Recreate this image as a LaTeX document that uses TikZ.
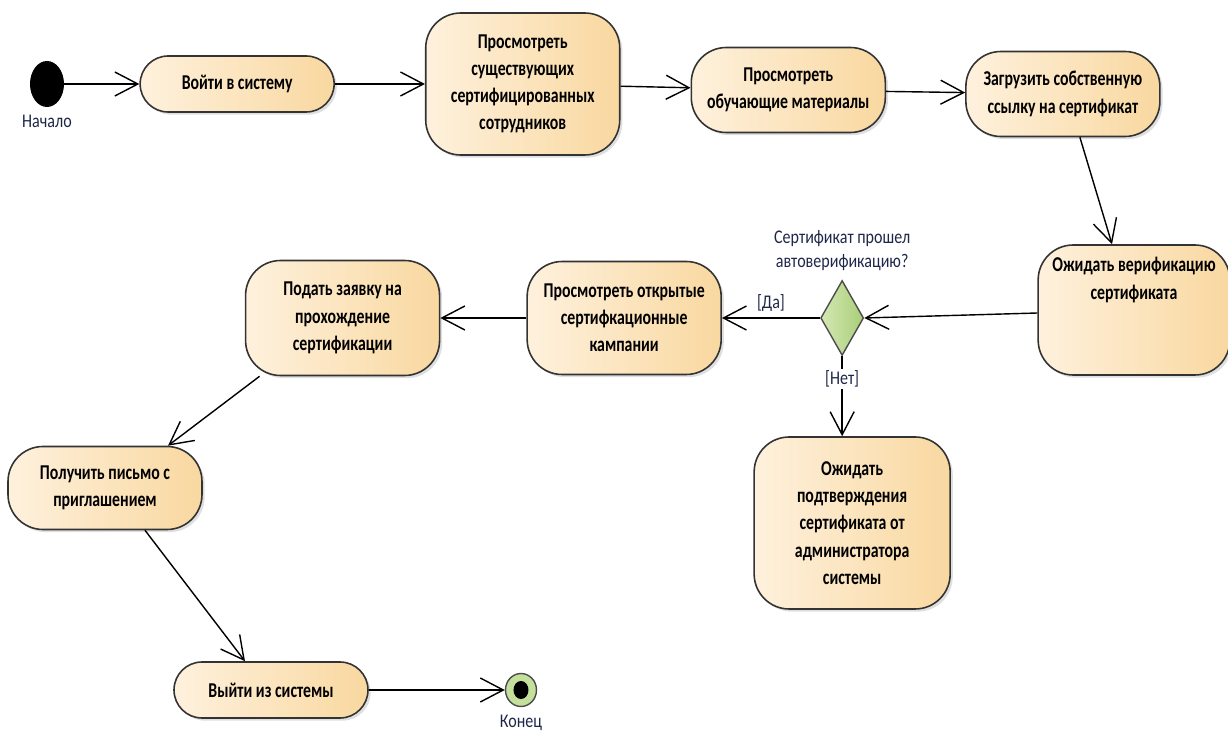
\documentclass[tikz,border=0pt]{standalone}
\usepackage{fontspec}
\setmainfont{Carlito}[FakeStretch=0.83]
\newfontfamily\actionfont{Carlito}[FakeStretch=0.75]
\usepackage{tikz}
\usetikzlibrary{positioning,arrows.meta,shadows,shapes.geometric}

\definecolor{actlight}{HTML}{FEF1DD}
\definecolor{actdark}{HTML}{F9D8A0}
\definecolor{decisionlight}{HTML}{D4E8B4}
\definecolor{decisiondark}{HTML}{A9CE78}
\definecolor{endgreen}{HTML}{C5E09B}
\definecolor{labeltext}{HTML}{1E2748}

\begin{document}
\begin{tikzpicture}[
  >={Straight Barb[length=4.6mm,width=4.8mm]},
  action/.style={draw=black!80, line width=0.9pt, rounded corners=7mm, left color=actlight, right color=actdark,
      minimum width=3.88cm, align=center, font=\actionfont\fontsize{12}{15.5}\selectfont\bfseries,
      drop shadow={shadow xshift=1.5pt, shadow yshift=-1.5pt, opacity=0.25}},
  flow/.style={->, line width=0.8pt},
  note/.style={font=\fontsize{11}{14}\selectfont, text=labeltext},
]
  \useasboundingbox (0,0) rectangle (24.56,-14.76);

  \node (start)[ellipse, fill=black, minimum width=0.68cm, minimum height=0.92cm, inner sep=0] at (0.94,-1.68) {};
  \node (start-label)[below=0.3mm of start, note] {Начало};
  \node (login)[action, right=1.5cm of start, minimum height=1.12cm, rounded corners=5.6mm] {Войти в систему};
  \node (view-certified)[action, right=1.8cm of login, minimum height=2.84cm] {Просмотреть\\существующих\\сертифицированных\\сотрудников};
  \node (view-materials)[action, right=1.4cm of view-certified, yshift=-1.2mm, minimum height=1.7cm] {Просмотреть\\обучающие материалы};
  \node (upload)[action, right=1.58cm of view-materials, yshift=-0.8mm, minimum height=1.7cm] {Загрузить собственную\\ссылку на сертификат};

  % verification
  \node (wait-verif)[action, minimum width=3.72cm, minimum height=2.6cm] at (22.68,-6.2) {\parbox[t][2.1cm][t]{3.6cm}{\centering Ожидать верификацию\\сертификата}};
  \node (check)[diamond, draw=black!70, line width=0.8pt, left color=decisionlight, right color=decisiondark, minimum width=0.86cm, minimum height=1.5cm, inner sep=0, left=3.46cm of wait-verif, yshift=-1.6mm] {};
  \node (check-label)[above=0.5mm of check, note, align=center] {Сертификат прошел\\автоверификацию?};
  \node (view-campaigns)[action, left=1.96cm of check, minimum height=2.26cm] {Просмотреть открытые\\сертифкационные\\кампании};
  \node (apply)[action, left=1.72cm of view-campaigns, minimum height=2.3cm] {Подать заявку на\\прохождение\\сертификации};
  \node (wait-admin)[action, below=1.6cm of check, xshift=2mm, minimum width=3.92cm, minimum height=3.44cm] {Ожидать\\подтверждения\\сертификата от\\администратора\\системы};

  % exit
  \node (invite)[action, minimum height=1.66cm] at (2.1,-9.76) {Получить письмо с\\приглашением};
  \node (logout)[action, minimum height=1.12cm, rounded corners=5.6mm] at (5.42,-13.8) {Выйти из системы};
  \node (end)[ellipse, draw=black!70, line width=0.8pt, fill=endgreen, minimum width=0.62cm, minimum height=0.66cm, inner sep=0, right=2.72cm of logout] {};
  \node (end-dot)[ellipse, fill=black, minimum width=0.3cm, minimum height=0.36cm, inner sep=0] at (end) {};
  \node (end-label)[below=0.3mm of end, note] {Конец};

  \draw[flow] (start) -- (login);
  \draw[flow] (login) -- (view-certified);
  \draw[flow] (view-certified) -- (view-materials);
  \draw[flow] (view-materials) -- (upload);
  \draw[flow] ([xshift=3.4mm]upload.south) -- ([xshift=-4.4mm]wait-verif.north);
  \draw[flow] ([yshift=-0.6mm]wait-verif.west) -- (check.east);
  \draw[flow] (check.west) -- node[note, above] {[Да]} (view-campaigns.east);
  \draw[flow] (check.south) -- node[note, pos=0.28, fill=white, inner sep=1pt] {[Нет]} (check.south |- wait-admin.north);
  \draw[flow] (view-campaigns) -- (apply);
  \draw[flow] ([xshift=-16.6mm]apply.south) -- ([xshift=12.6mm]invite.north);
  \draw[flow] ([xshift=8mm]invite.south) -- ([xshift=-5.2mm]logout.north);
  \draw[flow] (logout) -- (end);
\end{tikzpicture}
\end{document}
